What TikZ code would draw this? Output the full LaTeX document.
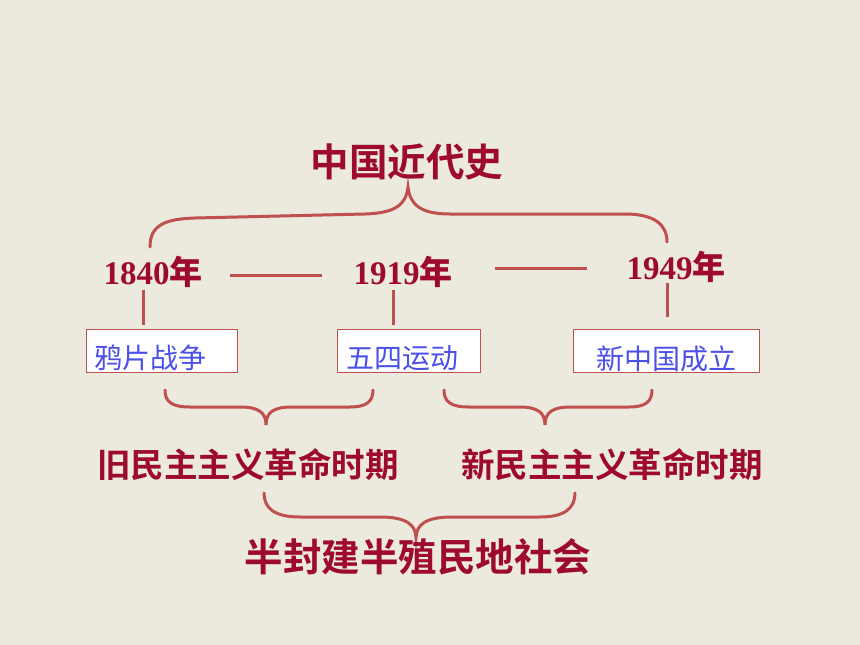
\documentclass[tikz,border=0pt]{standalone}
\usepackage{fontspec}
\setmainfont{Liberation Serif}
\newfontfamily\cjk{Noto Sans CJK SC}
\newfontfamily\cjkb{Noto Sans CJK SC Bold}
\definecolor{bg}{HTML}{ECE9DF}
\definecolor{dred}{HTML}{9E0A2E}
\definecolor{lred}{HTML}{C0504D}
\definecolor{eblue}{HTML}{4B50E8}
\tikzset{
  ttl/.style={text=dred, inner sep=0pt, font=\cjkb\fontsize{38.5}{42}\selectfont},
  yr/.style={text=dred, inner sep=0pt, font=\bfseries\fontsize{33}{36}\selectfont},
  per/.style={text=dred, inner sep=0pt, font=\cjkb\fontsize{33.5}{38}\selectfont},
  big/.style={text=dred, inner sep=0pt, font=\cjkb\fontsize{38.5}{42}\selectfont},
  evbox/.style={draw=lred, line width=1pt, fill=white, minimum height=43pt, inner sep=0pt},
  evtxt/.style={text=eblue, inner sep=0pt, font=\cjk\fontsize{28}{32}\selectfont},
  lnk/.style={draw=lred, line width=3pt},
  brc/.style={draw=lred, line width=3pt, line cap=round},
}
\begin{document}
\begin{tikzpicture}[x=1pt, y=-1pt]
\fill[bg] (0,0) rectangle (860,645);
\useasboundingbox (0,0) rectangle (860,645);

% title
\node[ttl] (title) at (407,162) {中国近代史};

% years
\node[yr] (y1840) at (153,272) {1840{\cjkb 年}};
\node[yr] (y1919) at (403,272) {1919{\cjkb 年}};
\node[yr] (y1949) at (676,267) {1949{\cjkb 年}};

% dashes between years
\coordinate (d1a) at (230,275); \coordinate (d1b) at (322,275);
\coordinate (d2a) at (495,268); \coordinate (d2b) at (587,268);
\draw[lnk] (d1a) -- (d1b);
\draw[lnk] (d2a) -- (d2b);

% event boxes
\node[evbox, minimum width=151pt] (b1) at (161.5,350.5) {};
\node[evbox, minimum width=143pt] (b2) at (408.5,350.5) {};
\node[evbox, minimum width=186pt] (b3) at (666,350.5) {};
\node[evtxt] (e1) at (150.5,358) {鸦片战争};
\node[evtxt] (e2) at (402,358) {五四运动};
\node[evtxt] (e3) at (666,359) {新中国成立};

% ticks
\coordinate (t1a) at (143,290); \coordinate (t1b) at (143,325);
\coordinate (t2a) at (393,290); \coordinate (t2b) at (393,325);
\coordinate (t3a) at (667,283); \coordinate (t3b) at (667,317);
\draw[lnk] (t1a) -- (t1b);
\draw[lnk] (t2a) -- (t2b);
\draw[lnk] (t3a) -- (t3b);

% top brace
\coordinate (tbL) at (150,247);
\coordinate (tbT) at (408,187);
\coordinate (tbR) at (667,242);
\draw[brc] (tbL) .. controls (150,225) and (165,219) .. (195,218) -- (365,214)
  .. controls (395,213) and (406,205) .. (tbT)
  .. controls (410,205) and (421,214) .. (450,214) -- (625,214)
  .. controls (655,214) and (667,225) .. (tbR);

% brace A
\coordinate (aL) at (165,390); \coordinate (aT) at (266,425); \coordinate (aR) at (373,390);
\draw[brc] (aL) .. controls (165,402) and (172,407) .. (190,407) -- (240,407)
  .. controls (258,407) and (266,412) .. (aT)
  .. controls (266,412) and (274,407) .. (292,407) -- (350,407)
  .. controls (366,407) and (373,402) .. (aR);

% brace B
\coordinate (bL) at (444,390); \coordinate (bT) at (545,425); \coordinate (bR) at (652,390);
\draw[brc] (bL) .. controls (444,402) and (451,407) .. (469,407) -- (519,407)
  .. controls (537,407) and (545,412) .. (bT)
  .. controls (545,412) and (553,407) .. (571,407) -- (629,407)
  .. controls (645,407) and (652,402) .. (bR);

% periods
\node[per] (p1) at (248,465) {旧民主主义革命时期};
\node[per] (p2) at (612,465) {新民主主义革命时期};

% brace C
\coordinate (cL) at (264,493); \coordinate (cT) at (416,538); \coordinate (cR) at (575,493);
\draw[brc] (cL) .. controls (264,508) and (274,517) .. (300,517) -- (380,517)
  .. controls (405,517) and (416,524) .. (cT)
  .. controls (416,524) and (427,517) .. (452,517) -- (540,517)
  .. controls (565,517) and (575,508) .. (cR);

\node[big] (soc) at (418,557) {半封建半殖民地社会};
\end{tikzpicture}
\end{document}
